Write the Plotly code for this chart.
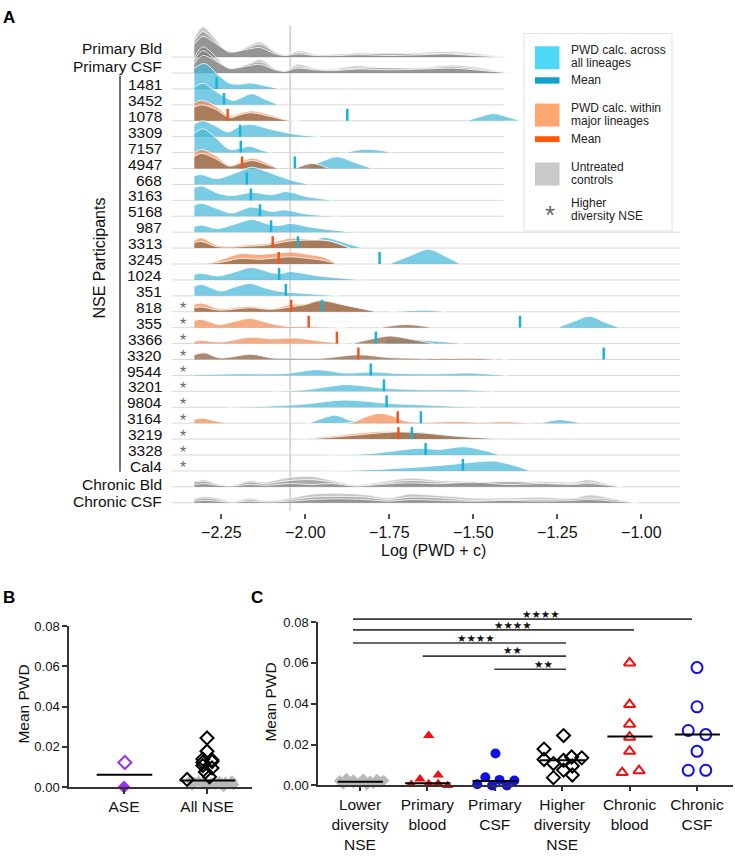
import plotly.graph_objects as go

W, H = 735, 856
FONT = "Liberation Sans, Arial, sans-serif"


def px(x):
    return x / W


def py(y):
    return 1 - y / H


# ---------------- panel A data ----------------
rows = ["Primary Bld", "Primary CSF", "1481", "3452", "1078", "3309", "7157", "4947",
        "668", "3163", "5168", "987", "3313", "3245", "1024", "351", "818", "355",
        "3366", "3320", "9544", "3201", "9804", "3164", "3219", "3328", "Cal4",
        "Chronic Bld", "Chronic CSF"]
higher_div_rows = ["818", "355", "3366", "3320", "9544", "3201", "9804", "3164",
                   "3219", "3328", "Cal4"]

blue_means = {"1481": -2.264, "3452": -2.242, "1078": -1.875, "3309": -2.194,
              "7157": -2.192, "4947": -2.031, "668": -2.174, "3163": -2.162,
              "5168": -2.135, "987": -2.102, "3313": -2.022, "3245": -1.779,
              "1024": -2.078, "351": -2.058, "818": -1.950, "355": -1.361,
              "3366": -1.790, "3320": -1.112, "9544": -1.805, "3201": -1.766,
              "9804": -1.758, "3164": -1.656, "3219": -1.683, "3328": -1.642,
              "Cal4": -1.531}
orange_means = {"1078": -2.231, "4947": -2.188, "3313": -2.097, "3245": -2.079,
                "818": -2.042, "355": -1.990, "3366": -1.906, "3320": -1.842,
                "3164": -1.725, "3219": -1.723}

# density outlines: (row, log PWD points, height in row units)
pb_x = [-2.33, -2.305, -2.27, -2.225, -2.17, -2.135, -2.09, -2.06, -2.02, -1.97,
        -1.90, -1.84, -1.75, -1.65, -1.58, -1.50, -1.40]
pc_x = [-2.33, -2.305, -2.27, -2.225, -2.17, -2.135, -2.09, -2.06, -2.025, -1.97,
        -1.92, -1.845, -1.75, -1.65, -1.56, -1.47, -1.39]
cb_x = [-2.33, -2.30, -2.26, -2.22, -2.165, -2.12, -2.045, -1.977, -1.92, -1.85,
        -1.78, -1.69, -1.60, -1.50, -1.40, -1.30, -1.20, -1.16, -1.10, -1.06]
cc_x = [-2.33, -2.30, -2.26, -2.22, -2.165, -2.12, -2.045, -1.977, -1.90, -1.82,
        -1.75, -1.69, -1.60, -1.50, -1.40, -1.30, -1.20, -1.155, -1.08, -1.015]

gray_ridges = [
    ("Primary Bld", pb_x, [1.2, 1.9, 1.2, 0.25, 0.7, 0.95, 0.35, 0.1, 0.4, 0.2, 0.15, 0.3, 0.2, 0.3, 0.35, 0.25, 0.0]),
    ("Primary Bld", pb_x, [1.0, 1.6, 1.0, 0.3, 0.6, 0.8, 0.3, 0.15, 0.3, 0.15, 0.2, 0.2, 0.25, 0.2, 0.25, 0.15, 0.0]),
    ("Primary Bld", pb_x, [0.8, 1.3, 0.9, 0.35, 0.5, 0.6, 0.2, 0.1, 0.2, 0.1, 0.1, 0.15, 0.1, 0.15, 0.2, 0.1, 0.0]),
    ("Primary CSF", pc_x, [1.0, 1.65, 1.1, 0.25, 0.6, 0.85, 0.3, 0.1, 0.55, 0.3, 0.25, 0.45, 0.3, 0.35, 0.5, 0.3, 0.0]),
    ("Primary CSF", pc_x, [0.8, 1.4, 0.9, 0.3, 0.55, 0.7, 0.25, 0.15, 0.4, 0.25, 0.2, 0.3, 0.35, 0.3, 0.4, 0.2, 0.0]),
    ("Primary CSF", pc_x, [0.6, 1.1, 0.8, 0.3, 0.45, 0.55, 0.2, 0.1, 0.3, 0.2, 0.15, 0.25, 0.2, 0.25, 0.3, 0.15, 0.0]),
    ("Chronic Bld", cb_x, [0.35, 0.45, 0.2, 0.1, 0.4, 0.3, 0.6, 0.65, 0.4, 0.15, 0.3, 0.55, 0.4, 0.35, 0.3, 0.35, 0.3, 0.45, 0.2, 0.0]),
    ("Chronic Bld", cb_x, [0.3, 0.35, 0.15, 0.08, 0.3, 0.2, 0.4, 0.45, 0.3, 0.1, 0.2, 0.4, 0.3, 0.25, 0.35, 0.25, 0.2, 0.3, 0.15, 0.0]),
    ("Chronic Bld", cb_x, [0.15, 0.2, 0.1, 0.05, 0.15, 0.1, 0.2, 0.15, 0.2, 0.05, 0.15, 0.25, 0.2, 0.3, 0.15, 0.2, 0.15, 0.2, 0.1, 0.0]),
    ("Chronic CSF", cc_x, [0.3, 0.4, 0.3, 0.1, 0.3, 0.15, 0.3, 0.55, 0.6, 0.5, 0.3, 0.55, 0.45, 0.3, 0.3, 0.35, 0.3, 0.5, 0.25, 0.0]),
    ("Chronic CSF", cc_x, [0.2, 0.3, 0.2, 0.05, 0.2, 0.1, 0.2, 0.35, 0.4, 0.35, 0.2, 0.35, 0.3, 0.15, 0.2, 0.2, 0.25, 0.3, 0.2, 0.0]),
    ("Chronic CSF", cc_x, [0.1, 0.15, 0.1, 0.03, 0.1, 0.05, 0.1, 0.2, 0.25, 0.2, 0.1, 0.2, 0.15, 0.1, 0.15, 0.1, 0.15, 0.2, 0.1, 0.0]),
]

blue_ridges = [
    ("1481", [-2.33, -2.30, -2.26, -2.225, -2.19, -2.165, -2.12, -2.075], [1.3, 1.6, 0.9, 0.35, 0.3, 0.38, 0.2, 0.0]),
    ("3452", [-2.33, -2.305, -2.27, -2.215, -2.19, -2.16, -2.12, -2.08], [1.1, 1.35, 0.9, 0.27, 0.45, 0.7, 0.35, 0.0]),
    ("1078", [-1.52, -1.48, -1.44, -1.40, -1.36], [0.0, 0.25, 0.45, 0.25, 0.0]),
    ("3309", [-2.33, -2.305, -2.27, -2.23, -2.195, -2.165, -2.10, -2.03, -1.956], [0.8, 1.0, 0.7, 0.3, 0.65, 0.78, 0.45, 0.15, 0.0]),
    ("7157", [-2.33, -2.305, -2.27, -2.225, -2.19, -2.165, -2.13, -2.10], [1.2, 1.5, 1.0, 0.2, 0.3, 0.4, 0.15, 0.0]),
    ("7157", [-1.88, -1.83, -1.79, -1.74], [0.0, 0.2, 0.18, 0.0]),
    ("4947", [-2.00, -1.95, -1.906, -1.85, -1.80], [0.0, 0.45, 0.74, 0.35, 0.0]),
    ("668", [-2.33, -2.31, -2.264, -2.21, -2.16, -2.12, -2.075, -2.03, -1.986], [0.55, 0.62, 0.36, 0.7, 1.08, 0.85, 0.5, 0.2, 0.0]),
    ("3163", [-2.33, -2.31, -2.26, -2.22, -2.156, -2.10, -2.055, -2.00, -1.917], [0.8, 0.9, 0.45, 0.3, 0.5, 0.35, 0.55, 0.25, 0.0]),
    ("5168", [-2.33, -2.31, -2.265, -2.22, -2.16, -2.10, -2.06, -2.00, -1.90], [0.7, 0.82, 0.5, 0.2, 0.58, 0.3, 0.4, 0.15, 0.0]),
    ("987", [-2.33, -2.31, -2.264, -2.21, -2.16, -2.11, -2.077, -2.045, -1.98, -1.857], [0.35, 0.45, 0.22, 0.5, 0.8, 0.5, 0.42, 0.55, 0.3, 0.0]),
    ("3313", [-1.99, -1.946, -1.90, -1.83], [0.3, 0.68, 0.45, 0.0]),
    ("3245", [-1.75, -1.69, -1.634, -1.58, -1.54], [0.0, 0.5, 0.92, 0.45, 0.0]),
    ("1024", [-2.33, -2.31, -2.26, -2.21, -2.16, -2.10, -2.075, -2.045, -1.96, -1.828], [0.35, 0.42, 0.25, 0.5, 0.78, 0.45, 0.4, 0.52, 0.25, 0.0]),
    ("351", [-2.33, -2.31, -2.25, -2.21, -2.165, -2.12, -2.075, -2.00, -1.897], [0.6, 0.72, 0.3, 0.55, 0.78, 0.5, 0.28, 0.15, 0.0]),
    ("818", [-1.75, -1.64, -1.58], [0.0, 0.1, 0.0]),
    ("355", [-1.25, -1.20, -1.155, -1.11, -1.065], [0.0, 0.4, 0.72, 0.35, 0.0]),
    ("3366", [-1.76, -1.70, -1.64, -1.58, -1.53], [0.3, 0.3, 0.2, 0.1, 0.0]),
    ("9544", [-2.33, -2.20, -2.06, -1.966, -1.88, -1.80, -1.72, -1.60, -1.51, -1.40], [0.05, 0.1, 0.12, 0.36, 0.15, 0.22, 0.12, 0.1, 0.15, 0.0]),
    ("3201", [-2.10, -2.00, -1.93, -1.887, -1.83, -1.78, -1.66, -1.53, -1.44], [0.0, 0.1, 0.3, 0.42, 0.35, 0.22, 0.1, 0.1, 0.0]),
    ("9804", [-2.23, -2.10, -2.00, -1.93, -1.887, -1.82, -1.76, -1.66, -1.58, -1.48], [0.0, 0.08, 0.2, 0.38, 0.45, 0.38, 0.25, 0.15, 0.08, 0.0]),
    ("3164", [-1.99, -1.95, -1.911, -1.87, -1.83], [0.0, 0.3, 0.5, 0.2, 0.0]),
    ("3164", [-1.30, -1.242, -1.18], [0.0, 0.22, 0.0]),
    ("3219", [-1.75, -1.68, -1.60, -1.52], [0.4, 0.5, 0.3, 0.0]),
    ("3328", [-1.93, -1.80, -1.70, -1.659, -1.60, -1.53, -1.47, -1.42], [0.0, 0.1, 0.35, 0.43, 0.35, 0.52, 0.3, 0.0]),
    ("Cal4", [-1.95, -1.80, -1.66, -1.58, -1.50, -1.44, -1.38, -1.33], [0.0, 0.08, 0.25, 0.38, 0.55, 0.62, 0.35, 0.0]),
]

orange_ridges = [
    ("1078", [-2.33, -2.31, -2.27, -2.225, -2.19, -2.16, -2.10, -2.06, -2.02], [1.1, 1.3, 0.95, 0.3, 0.5, 0.62, 0.35, 0.1, 0.0]),
    ("4947", [-2.33, -2.31, -2.27, -2.225, -2.19, -2.156, -2.11, -2.08], [1.0, 1.2, 0.85, 0.2, 0.45, 0.66, 0.3, 0.0]),
    ("3313", [-2.33, -2.31, -2.265, -2.22, -2.165, -2.11, -2.045, -1.99, -1.93, -1.867], [0.5, 0.65, 0.2, 0.12, 0.22, 0.3, 0.62, 0.55, 0.45, 0.0]),
    ("3245", [-2.33, -2.28, -2.24, -2.194, -2.135, -2.079, -2.045, -1.99, -1.94, -1.906], [0.05, 0.1, 0.35, 0.65, 0.6, 0.7, 0.75, 0.6, 0.4, 0.0]),
    ("818", [-2.33, -2.31, -2.255, -2.165, -2.10, -2.045, -2.00, -1.956, -1.88, -1.787], [0.45, 0.55, 0.2, 0.35, 0.2, 0.45, 0.5, 0.7, 0.4, 0.0]),
    ("355", [-2.33, -2.31, -2.255, -2.21, -2.165, -2.11, -2.06, -1.98, -1.877], [0.45, 0.52, 0.2, 0.4, 0.58, 0.3, 0.1, 0.06, 0.0]),
    ("3366", [-2.33, -2.31, -2.25, -2.165, -2.10, -2.03, -1.95, -1.88], [0.15, 0.2, 0.1, 0.4, 0.3, 0.35, 0.15, 0.0]),
    ("3320", [-1.66, -1.60, -1.52, -1.45, -1.40], [0.0, 0.08, 0.03, 0.08, 0.0]),
    ("3164", [-2.33, -2.30, -2.27, -2.23], [0.25, 0.3, 0.15, 0.0]),
    ("3164", [-2.00, -1.86, -1.82, -1.778, -1.74, -1.70, -1.65, -1.55, -1.48, -1.40, -1.33], [0.0, 0.05, 0.4, 0.62, 0.45, 0.12, 0.05, 0.1, 0.05, 0.09, 0.0]),
    ("3219", [-2.02, -1.92, -1.82, -1.75, -1.68, -1.62, -1.56], [0.0, 0.2, 0.42, 0.5, 0.42, 0.3, 0.0]),
]

brown_ridges = [
    ("1078", [-2.33, -2.31, -2.27, -2.225, -2.19, -2.16, -2.10, -2.06, -2.02], [0.85, 1.0, 0.75, 0.2, 0.4, 0.5, 0.25, 0.05, 0.0]),
    ("4947", [-2.33, -2.31, -2.27, -2.225, -2.19, -2.156, -2.11, -2.08], [0.75, 0.95, 0.65, 0.15, 0.35, 0.5, 0.2, 0.0]),
    ("4947", [-2.03, -1.98, -1.93], [0.0, 0.32, 0.0]),
    ("3313", [-2.33, -2.31, -2.265, -2.22, -2.165, -2.11, -2.045, -1.99, -1.93, -1.867], [0.35, 0.42, 0.1, 0.06, 0.12, 0.2, 0.45, 0.5, 0.45, 0.0]),
    ("3245", [-2.33, -2.28, -2.24, -2.194, -2.135, -2.079, -2.045, -1.99, -1.94, -1.906], [0.03, 0.05, 0.15, 0.35, 0.3, 0.4, 0.45, 0.35, 0.2, 0.0]),
    ("818", [-2.33, -2.31, -2.255, -2.165, -2.10, -2.045, -2.00, -1.956, -1.88, -1.787], [0.25, 0.3, 0.1, 0.25, 0.15, 0.3, 0.45, 0.7, 0.4, 0.0]),
    ("355", [-1.78, -1.70, -1.62], [0.0, 0.2, 0.0]),
    ("3366", [-1.86, -1.80, -1.748, -1.68, -1.62], [0.0, 0.3, 0.48, 0.25, 0.0]),
    ("3320", [-2.33, -2.30, -2.255, -2.16, -2.10, -2.045, -1.95, -1.842, -1.75, -1.68, -1.58, -1.50, -1.43], [0.3, 0.42, 0.1, 0.33, 0.1, 0.08, 0.08, 0.3, 0.12, 0.08, 0.06, 0.08, 0.0]),
    ("3219", [-2.00, -1.90, -1.80, -1.728, -1.65, -1.55, -1.45, -1.41], [0.0, 0.15, 0.35, 0.45, 0.38, 0.18, 0.05, 0.0]),
]

GRAY = "rgba(125,125,125,0.42)"
BLUE = "rgba(69,184,216,0.72)"
ORANGE = "rgba(242,140,82,0.72)"
BROWN = "rgba(158,116,86,0.86)"

# ---------------- panel B / C data ----------------
ase_vals = [0.0122, 0.0]
ase_median = 0.0061
all_nse_median = 0.0033

lower_div = [0.0033, 0.0030, 0.0028, 0.0026, 0.0024, 0.0022, 0.0020, 0.0019, 0.0017,
             0.0015, 0.0013, 0.0011, 0.0008, 0.0004]
higher_div = [0.0244, 0.0178, 0.0139, 0.0135, 0.0127, 0.0123, 0.0107, 0.0095,
              0.0075, 0.0051, 0.0038]
primary_blood = [0.0005, 0.0032, 0.0244, 0.0008, 0.0051, 0.0008, 0.0000]
primary_csf = [0.0006, 0.0040, 0.0000, 0.0156, 0.0027, 0.0000, 0.0024]
chronic_blood = [0.0600, 0.0396, 0.0300, 0.0236, 0.0167, 0.0063, 0.0072]
chronic_csf = [0.0577, 0.0385, 0.0269, 0.0249, 0.0167, 0.0074, 0.0074]
c_medians = [0.0018, 0.0011, 0.0022, 0.0123, 0.0239, 0.0249]
c_labels = ["Lower<br>diversity<br>NSE", "Primary<br>blood", "Primary<br>CSF",
            "Higher<br>diversity<br>NSE", "Chronic<br>blood", "Chronic<br>CSF"]

# horizontal spread of the dot plots (category units)
b_low_jit = [-0.2, 0.3, -0.1, 0.15, 0.22, -0.15, 0.05, 0.28, -0.05, 0.1, 0.32, -0.18, 0.0, 0.2]
b_high_jit = [0.0, 0.0, -0.05, 0.06, 0.06, -0.05, -0.05, 0.06, -0.02, 0.03, -0.24]
c_low_jit = [-0.2, 0.05, 0.25, -0.1, 0.35, -0.3, 0.15, -0.2, 0.3, 0.0, -0.1, 0.2, -0.25, 0.1]
c_pb_jit = [-0.24, -0.11, 0.02, 0.02, 0.16, 0.16, 0.30]
c_pc_jit = [-0.26, -0.14, -0.04, 0.01, 0.07, 0.18, 0.29]
c_hd_jit = [0.02, -0.27, 0.14, 0.29, -0.27, 0.02, -0.13, 0.15, 0.02, 0.15, -0.13]
c_cb_jit = [0.0, 0.0, 0.0, 0.0, 0.0, -0.11, 0.14]
c_cc_jit = [0.0, 0.0, -0.13, 0.13, 0.0, -0.13, 0.13]

sig_bars = [(0, 5, "★★★★"), (0, 4, "★★★★"), (0, 3, "★★★★"), (1, 3, "★★"), (2, 3, "★★")]

# ---------------- figure ----------------
n = len(rows)
ROW_PX = 16.2


def base(row):
    return (n - 1) - rows.index(row)


fig = go.Figure()
shapes = []
annotations = []


def note(text, x, y, size, color="#111", xanchor="center", yanchor="middle", **kw):
    annotations.append(dict(x=px(x), y=py(y), xref="paper", yref="paper", text=text,
                            showarrow=False, xanchor=xanchor, yanchor=yanchor,
                            font=dict(size=size, color=color, family=kw.pop("family", FONT)), **kw))


def add_ridge(row, xs, hs, fill):
    b = base(row)
    fig.add_trace(go.Scatter(x=[xs[0], xs[-1]], y=[b, b], mode="lines",
                             line=dict(width=0), hoverinfo="skip", showlegend=False))
    fig.add_trace(go.Scatter(x=xs, y=[b + h for h in hs], mode="lines",
                             line=dict(color="white", width=0.8, shape="spline", smoothing=0.9),
                             fill="tonexty", fillcolor=fill, hoverinfo="skip", showlegend=False))


for row in rows:
    for group, col in ((gray_ridges, GRAY), (blue_ridges, BLUE),
                       (orange_ridges, ORANGE), (brown_ridges, BROWN)):
        for r, xs, hs in group:
            if r == row:
                add_ridge(r, xs, hs, col)


def mean_trace(means, color):
    xs, ys = [], []
    for r, m in means.items():
        b = base(r)
        xs += [m, m, None]
        ys += [b, b + 0.75, None]
    fig.add_trace(go.Scatter(x=xs, y=ys, mode="lines", line=dict(color=color, width=2.5),
                             hoverinfo="skip", showlegend=False))


mean_trace(orange_means, "#f4561a")
mean_trace(blue_means, "#17b3df")

# row baselines and vertical reference line
for i, r in enumerate(rows):
    b = base(r)
    shapes.append(dict(type="line", xref="x", yref="y", x0=-2.397,
                       x1=-1.41 if i <= 10 else -0.885, y0=b, y1=b,
                       line=dict(color="#d9d9d9", width=1), layer="below"))
shapes.append(dict(type="line", xref="x", yref="y", x0=-2.045, x1=-2.045, y0=-0.52, y1=29.98,
                   line=dict(color="#cfcfcf", width=1.5), layer="below"))

# row labels
for i, r in enumerate(rows):
    off = {0: 9, 1: 7, 27: 2.5, 28: 1.5}.get(i, 4.5)
    note(r, 164, 51 + ROW_PX * i - off, 15.5, xanchor="right")
    if r in higher_div_rows:
        note("*", 183, 51 + ROW_PX * i - 3, 16, color="#666")

shapes.append(dict(type="line", xref="paper", yref="paper", x0=px(120), x1=px(120),
                   y0=py(70), y1=py(473), line=dict(color="#444", width=1.5)))
note("NSE Participants", 100, 256, 16, textangle=-90)
note("Log (PWD + c)", 433, 553, 16)

# legend box
shapes.append(dict(type="rect", xref="paper", yref="paper", x0=px(524), x1=px(672),
                   y0=py(228), y1=py(27), line=dict(color="#e2e2e2", width=1), fillcolor="white"))
for (y0, y1, col) in [(40, 63.3, "#4dd9f5"), (71.5, 78, "#0fa3c9"), (98.3, 121.7, "#fda66f"),
                      (131.5, 137.5, "#ff5a0a"), (158.3, 181.7, "#c9c9c9")]:
    shapes.append(dict(type="rect", xref="paper", yref="paper", x0=px(535), x1=px(559.5),
                       y0=py(y1), y1=py(y0), line=dict(width=0), fillcolor=col))
legend_lines = [("PWD calc. across", 43.3), ("all lineages", 56.7), ("Mean", 74.5),
                ("PWD calc. within", 102.7), ("major lineages", 116), ("Mean", 134.5),
                ("Untreated", 162.7), ("controls", 175.7), ("Higher", 200), ("diversity NSE", 212.7)]
for t, yy in legend_lines:
    note(t, 569, yy, 12, color="#222", xanchor="left")
note("*", 549.5, 212, 26, color="#666")

# panel letters
for t, x, y in [("A", 9, 11), ("B", 9, 601), ("C", 257, 601)]:
    note("<b>%s</b>" % t, x, y, 17, color="#000")

# ---------------- panel B ----------------
bx = dict(xaxis="x2", yaxis="y2", cliponaxis=False, hoverinfo="skip", showlegend=False)
fig.add_trace(go.Scatter(x=[1 + j for j in b_low_jit], y=lower_div, mode="markers",
                         marker=dict(symbol="diamond", size=9, color="#b9b9b9"), **bx))
fig.add_trace(go.Scatter(x=[1 + j for j in b_high_jit], y=higher_div, mode="markers",
                         marker=dict(symbol="diamond-open", size=10, color="#000", line=dict(width=2)), **bx))
fig.add_trace(go.Scatter(x=[0.01], y=[ase_vals[0]], mode="markers",
                         marker=dict(symbol="diamond-open", size=10, color="#9b30f5", line=dict(width=2)), **bx))
fig.add_trace(go.Scatter(x=[0.0], y=[ase_vals[1]], mode="markers",
                         marker=dict(symbol="diamond", size=10, color="#9b30f5"), **bx))
for c, m in [(0, ase_median), (1, all_nse_median)]:
    fig.add_trace(go.Scatter(x=[c - 0.33, c + 0.34], y=[m, m], mode="lines",
                             line=dict(color="#000", width=2), **bx))
note("Mean PWD", 24, 710, 15.5, textangle=-90)

# ---------------- panel C ----------------
cx = dict(xaxis="x3", yaxis="y3", cliponaxis=False, hoverinfo="skip", showlegend=False)
fig.add_trace(go.Scatter(x=[0 + j for j in c_low_jit], y=lower_div, mode="markers",
                         marker=dict(symbol="diamond", size=9, color="#b9b9b9"), **cx))
fig.add_trace(go.Scatter(x=[1 + j for j in c_pb_jit], y=primary_blood, mode="markers",
                         marker=dict(symbol="triangle-up", size=10, color="#f01010"), **cx))
fig.add_trace(go.Scatter(x=[2 + j for j in c_pc_jit], y=primary_csf, mode="markers",
                         marker=dict(symbol="circle", size=10, color="#1010e6"), **cx))
fig.add_trace(go.Scatter(x=[3 + j for j in c_hd_jit], y=higher_div, mode="markers",
                         marker=dict(symbol="diamond-open", size=10, color="#000", line=dict(width=2)), **cx))
fig.add_trace(go.Scatter(x=[4 + j for j in c_cb_jit], y=chronic_blood, mode="markers",
                         marker=dict(symbol="triangle-up-open", size=10, color="#f01010", line=dict(width=2)), **cx))
fig.add_trace(go.Scatter(x=[5 + j for j in c_cc_jit], y=chronic_csf, mode="markers",
                         marker=dict(symbol="circle-open", size=11, color="#1010e6", line=dict(width=2)), **cx))
for c, m in enumerate(c_medians):
    fig.add_trace(go.Scatter(x=[c - 0.33, c + 0.34], y=[m, m], mode="lines",
                             line=dict(color="#000", width=2), **cx))
note("Mean PWD", 271, 708, 15.5, textangle=-90)

# significance bars (pixel rows of the bars)
bar_rows = [623, 634, 647.3, 660.7, 674]
bar_right = {5: 692, 4: 634, 3: 566}
bar_left = {0: 353, 1: 422.7, 2: 494.3}
star_pos = [(540.7, 617), (512.7, 629), (475.7, 641.3), (512.7, 654), (543.3, 668)]
for (a, b_, txt), yy, (sx, sy) in zip(sig_bars, bar_rows, star_pos):
    shapes.append(dict(type="line", xref="paper", yref="paper", x0=px(bar_left[a]), x1=px(bar_right[b_]),
                       y0=py(yy), y1=py(yy), line=dict(color="#3a3a3a", width=1.6)))
    note(txt, sx, sy + 0.5, 10.5, family="DejaVu Sans")

axis_common = dict(showgrid=False, zeroline=False)
fig.update_layout(
    width=W, height=H, margin=dict(l=0, r=0, t=0, b=0),
    paper_bgcolor="white", plot_bgcolor="rgba(0,0,0,0)", showlegend=False,
    font=dict(family=FONT, color="#111"),
    xaxis=dict(domain=[px(172), px(682)], range=[-2.3967, -0.879], anchor="y",
               tickvals=[-2.25, -2.0, -1.75, -1.5, -1.25, -1.0], tickformat=".2f",
               ticks="outside", ticklen=5, tickwidth=1.5, tickcolor="#555", showline=False,
               tickfont=dict(size=16, color="#111"), **axis_common),
    yaxis=dict(domain=[py(515), py(8)], range=[-0.642, 30.654], visible=False, anchor="x",
               **axis_common),
    xaxis2=dict(domain=[px(69), px(252)], range=[-0.663, 1.542], anchor="y2",
                tickvals=[0, 1], ticktext=["ASE", "All NSE"], ticks="outside", ticklen=5,
                tickwidth=1.5, tickcolor="#333", showline=True, linecolor="#333", linewidth=1.5,
                tickfont=dict(size=15.5, color="#111"), **axis_common),
    yaxis2=dict(domain=[py(794), py(630)], range=[0, 0.08], anchor="x2",
                tickvals=[0, 0.02, 0.04, 0.06, 0.08], tickformat=".2f", ticks="outside",
                ticklen=5, tickwidth=1.5, tickcolor="#333", showline=True, linecolor="#333",
                linewidth=1.5, tickfont=dict(size=13, color="#111"), **axis_common),
    xaxis3=dict(domain=[px(318), px(733)], range=[-0.623, 5.534], anchor="y3",
                tickvals=[0, 1, 2, 3, 4, 5], ticktext=c_labels, ticks="outside", ticklen=4,
                tickwidth=1.5, tickcolor="#333", showline=True, linecolor="#333", linewidth=1.5,
                tickfont=dict(size=15.5, color="#111"), **axis_common),
    yaxis3=dict(domain=[py(792.3), py(626)], range=[0, 0.08], anchor="x3",
                tickvals=[0, 0.02, 0.04, 0.06, 0.08], tickformat=".2f", ticks="outside",
                ticklen=5, tickwidth=1.5, tickcolor="#333", showline=True, linecolor="#333",
                linewidth=1.5, tickfont=dict(size=13, color="#111"), **axis_common),
    shapes=shapes,
    annotations=annotations,
)

fig.write_html("out.html", config={"displayModeBar": False},
               post_script="document.body.style.margin='0px';document.body.style.overflow='hidden';")
